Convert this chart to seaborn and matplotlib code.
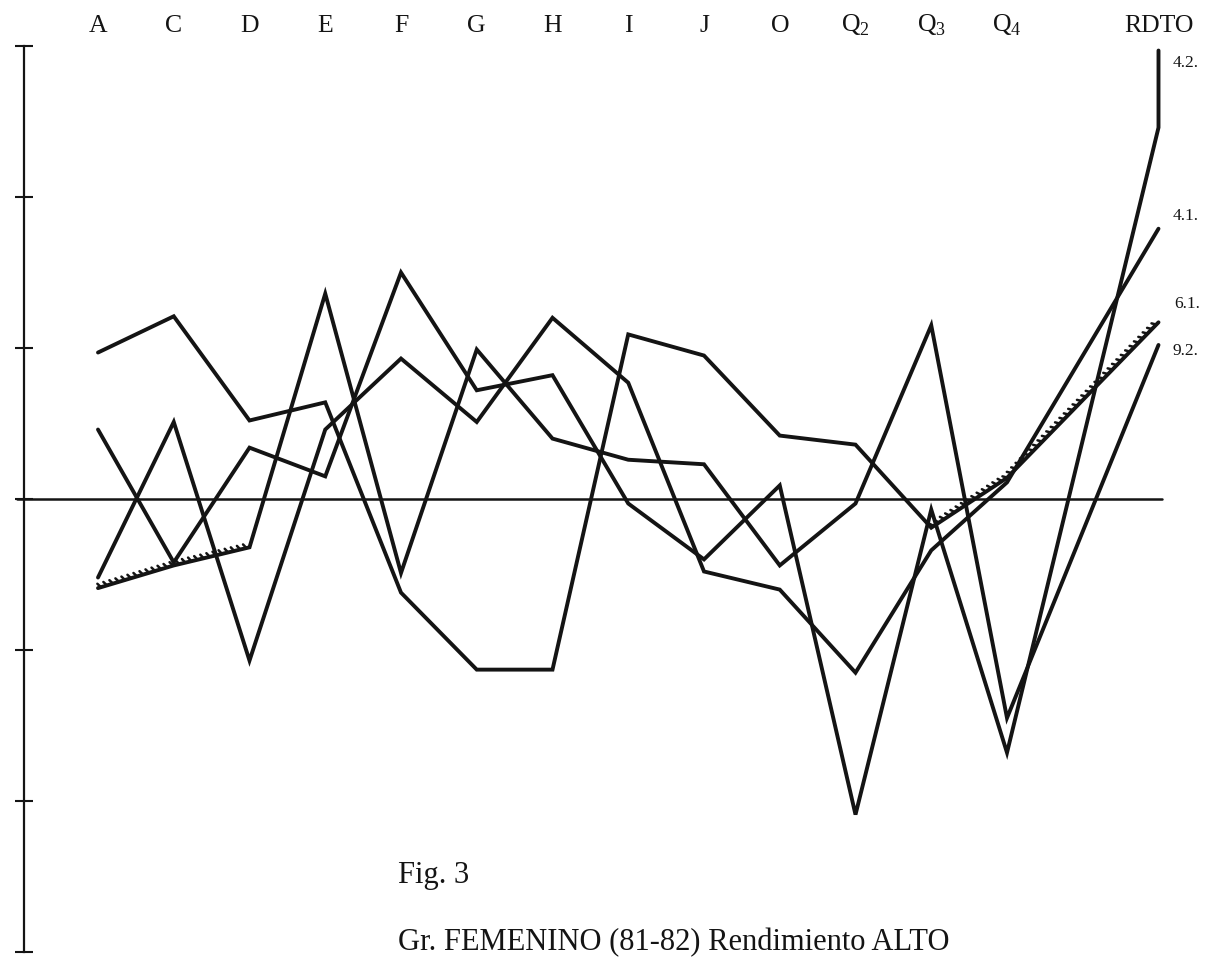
import pandas as pd
import seaborn as sns
from matplotlib import pyplot as plt
from matplotlib import patheffects as pe

# factor labels along the top; RDTO sits one slot apart from Q4
categories = ['A', 'C', 'D', 'E', 'F', 'G', 'H', 'I', 'J', 'O',
              r'Q$_\mathrm{2}$', r'Q$_\mathrm{3}$', r'Q$_\mathrm{4}$', 'RDTO']
positions = [0, 1, 2, 3, 4, 5, 6, 7, 8, 9, 10, 11, 12, 14]

# profiles (units of the axis ticks, 0 = middle line)
serie_42 = [0.46, -0.42, 0.34, 0.15, 1.50, 0.72, 0.82, -0.03, -0.40, 0.09,
            -2.09, -0.07, -1.68, 2.46, 2.97]
serie_41 = [-0.52, 0.51, -1.07, 0.46, 0.93, 0.51, 1.20, 0.77, -0.48, -0.60,
            -1.15, -0.34, 0.11, 1.79]
serie_61 = [0.97, 1.21, 0.52, 0.64, -0.62, -1.13, -1.13, 1.09, 0.95, 0.42,
            0.36, -0.19, 0.14, 1.17]
serie_92 = [-0.59, -0.44, -0.32, 1.36, -0.49, 0.99, 0.40, 0.26, 0.23, -0.44,
            -0.03, 1.15, -1.45, 1.02]

series = {'4.2.': (positions + [14], serie_42),
          '4.1.': (positions, serie_41),
          '6.1.': (positions, serie_61),
          '9.2.': (positions, serie_92)}

# label offsets (pixels) from each line's last point
label_offsets = {'4.2.': (14, -12), '4.1.': (14, 13), '6.1.': (16, 18), '9.2.': (14, -6)}

rows = []
for name, (xs, ys) in series.items():
    for i, (x, y) in enumerate(zip(xs, ys)):
        rows.append([name, i, x, y])
df = pd.DataFrame(rows, columns=['serie', 'order', 'pos', 'value'])

sns.set_theme(style="white")
plt.rcParams['font.family'] = ['Liberation Serif', 'DejaVu Serif']
plt.rcParams['mathtext.fontset'] = 'custom'
plt.rcParams['mathtext.rm'] = 'Liberation Serif'

ink = '#141414'
fig = plt.figure(figsize=(12.16, 9.6), dpi=100)
ax = fig.add_axes([0, 0, 1, 1 - 40 / 960])

sns.lineplot(data=df, x='pos', y='value', units='serie', estimator=None,
             sort=False, color=ink, lw=2.8, ax=ax)
for line in ax.get_lines():
    line.set_solid_joinstyle('miter')

# the notched (hatched) stretches of two profiles
tick_fx = [pe.TickedStroke(spacing=4.5, angle=120, length=0.8, linewidth=1.8)]
ax.plot(positions[:3], serie_92[:3], color=ink, lw=1, path_effects=tick_fx)
ax.plot(positions[-3:], serie_61[-3:], color=ink, lw=1, path_effects=tick_fx)

for name, (xs, ys) in series.items():
    ax.annotate(name, (xs[-1], ys[-1]), xytext=label_offsets[name],
                textcoords='offset pixels', ha='left', va='center',
                fontsize=12.5, color=ink)

# middle reference line
ax.axhline(0, xmin=17 / 1216, xmax=1162 / 1216, color=ink, lw=1.8)

ax.set_xlim(-98 / 75.75, (1216 - 98) / 75.75)
ax.set_ylim((499 - 960) / 151, (499 - 40) / 151)

for side in ['top', 'right', 'bottom']:
    ax.spines[side].set_visible(False)
ax.spines['left'].set_position(('data', (24 - 98) / 75.75))
ax.spines['left'].set_bounds(-3, 3)
ax.spines['left'].set_color(ink)
ax.spines['left'].set_linewidth(1.6)
ax.set_yticks(range(-3, 4))
ax.set_yticklabels([])
ax.tick_params(axis='y', left=True, direction='inout', length=13, width=1.5, color=ink)

ax.xaxis.tick_top()
ax.set_xticks(positions, categories)
ax.tick_params(axis='x', length=0, pad=6, labelsize=18.5, labelcolor=ink)
for lab in ax.get_xticklabels():
    lab.set_va('baseline')
ax.set(xlabel='', ylabel='')

fig.text(398 / 1216, 1 - 883 / 960, 'Fig. 3', fontsize=22, va='baseline', color=ink)
fig.text(398 / 1216, 1 - 950 / 960, 'Gr. FEMENINO (81-82) Rendimiento ALTO',
         fontsize=22, va='baseline', color=ink)

fig.savefig('out.png', dpi=100, facecolor='white')
